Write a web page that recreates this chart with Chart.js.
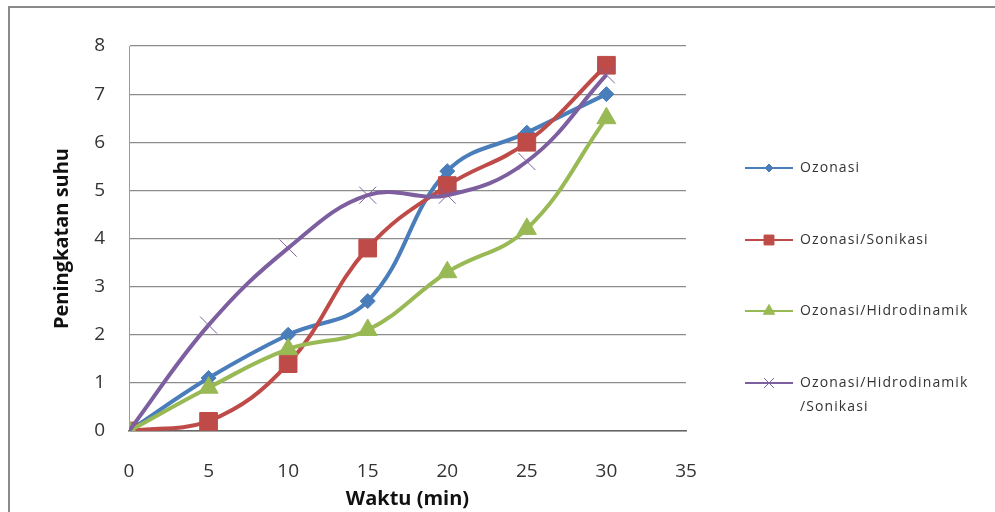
<!DOCTYPE html>
<html>
<head>
<meta charset="utf-8">
<script src="https://cdn.jsdelivr.net/npm/chart.js@4"></script>
<style>
  html, body { margin: 0; padding: 0; background: #fff; overflow: hidden; }
  #wrap { position: relative; width: 995px; height: 512px; }
  #frame { position: absolute; left: 8px; top: 6px; width: 1000px; height: 520px;
           border-left: 2px solid #8a8a8a; border-top: 2px solid #8a8a8a; pointer-events: none; }
</style>
</head>
<body>
<div id="wrap">
  <canvas id="chart" width="995" height="512"></canvas>
  <div id="frame"></div>
</div>
<script>
const times = [0, 5, 10, 15, 20, 25, 30];
const seriesNames = ['Ozonasi', 'Ozonasi/Sonikasi', 'Ozonasi/Hidrodinamik', 'Ozonasi/Hidrodinamik/Sonikasi'];
const ozonasi = [0, 1.1, 2.0, 2.7, 5.4, 6.2, 7.0];
const ozonasiSonikasi = [0, 0.2, 1.4, 3.8, 5.1, 6.0, 7.6];
const ozonasiHidro = [0, 0.9, 1.7, 2.1, 3.3, 4.2, 6.5];
const ozonasiHidroSonikasi = [0, 2.2, 3.8, 4.9, 4.9, 5.6, 7.4];
const xTicks = [0, 5, 10, 15, 20, 25, 30, 35];
const yTicks = [0, 1, 2, 3, 4, 5, 6, 7, 8];

const colors = ['#4a7ebb', '#be4b48', '#98b954', '#7d5fa0'];
const markers = ['rectRot', 'rect', 'triangle', 'crossRot'];
const markerSize = [7.5, 12.5, 11, 12];
const allValues = [ozonasi, ozonasiSonikasi, ozonasiHidro, ozonasiHidroSonikasi];

const font = '"Open Sans", Lato, sans-serif';

function toPoints(values) {
  return values.map(function (v, i) { return { x: times[i], y: v }; });
}

const datasets = allValues.map(function (vals, i) {
  return {
    label: seriesNames[i],
    data: toPoints(vals),
    borderColor: colors[i],
    backgroundColor: colors[i],
    borderWidth: 4,
    tension: 0.4,
    pointStyle: markers[i],
    pointRadius: markerSize[i],
    pointBorderWidth: 1,
    pointBorderColor: colors[i],
    pointBackgroundColor: colors[i],
    order: 4 - i
  };
});

// legend drawn by hand: line + marker on the right, like the original
const sideLegend = {
  id: 'sideLegend',
  afterDraw: function (chart) {
    const ctx = chart.ctx;
    const rows = [168, 240, 311, 383];
    const legendSize = [4, 7, 6.5, 7];
    ctx.save();
    for (let i = 0; i < 4; i++) {
      const y = rows[i];
      ctx.strokeStyle = colors[i];
      ctx.lineWidth = 2;
      ctx.beginPath();
      ctx.moveTo(745, y);
      ctx.lineTo(793, y);
      ctx.stroke();
      ctx.fillStyle = colors[i];
      ctx.strokeStyle = colors[i];
      ctx.lineWidth = 1;
      Chart.helpers.drawPoint(ctx, { pointStyle: markers[i], radius: legendSize[i], borderWidth: 1 }, 769, y);
    }
    ctx.fillStyle = '#333';
    ctx.font = '14px ' + font;
    ctx.letterSpacing = '1.1px';
    ctx.textAlign = 'left';
    ctx.textBaseline = 'middle';
    ctx.fillText('Ozonasi', 800, rows[0]);
    ctx.fillText('Ozonasi/Sonikasi', 800, rows[1]);
    ctx.fillText('Ozonasi/Hidrodinamik', 800, rows[2]);
    ctx.fillText('Ozonasi/Hidrodinamik', 800, rows[3]);
    ctx.fillText('/Sonikasi', 800, rows[3] + 24);
    ctx.restore();
  }
};

new Chart(document.getElementById('chart').getContext('2d'), {
  type: 'line',
  data: { datasets: datasets },
  plugins: [sideLegend],
  options: {
    responsive: false,
    animation: false,
    devicePixelRatio: 1,
    layout: { padding: { left: 0, top: 46, right: 309, bottom: 0 } },
    plugins: {
      legend: { display: false },
      tooltip: { enabled: false }
    },
    scales: {
      x: {
        type: 'linear',
        min: 0,
        max: 35,
        afterBuildTicks: function (scale) {
          scale.ticks = xTicks.map(function (v) { return { value: v }; });
        },
        afterFit: function (scale) { scale.height = 81; },
        grid: { display: false, drawTicks: false },
        border: { display: true, color: '#666', width: 1.5 },
        ticks: { padding: 29, color: '#333', font: { family: font, size: 19 } },
        title: {
          display: true,
          text: 'Waktu (min)',
          color: '#111',
          font: { family: font, size: 20, weight: 'bold' },
          padding: { top: 0, bottom: 1 }
        }
      },
      y: {
        min: 0,
        max: 8,
        afterBuildTicks: function (scale) {
          scale.ticks = yTicks.map(function (v) { return { value: v }; });
        },
        afterFit: function (scale) { scale.width = 129; },
        grid: { color: '#8c8c8c', lineWidth: 1.2, drawTicks: false },
        border: { display: true, color: '#9a9a9a', width: 1 },
        ticks: { padding: 24, color: '#333', font: { family: font, size: 19 } },
        title: {
          display: true,
          text: 'Peningkatan suhu',
          color: '#111',
          font: { family: font, size: 20, weight: 'bold' },
          padding: { top: 50, bottom: 0 }
        }
      }
    }
  }
});
</script>
</body>
</html>
